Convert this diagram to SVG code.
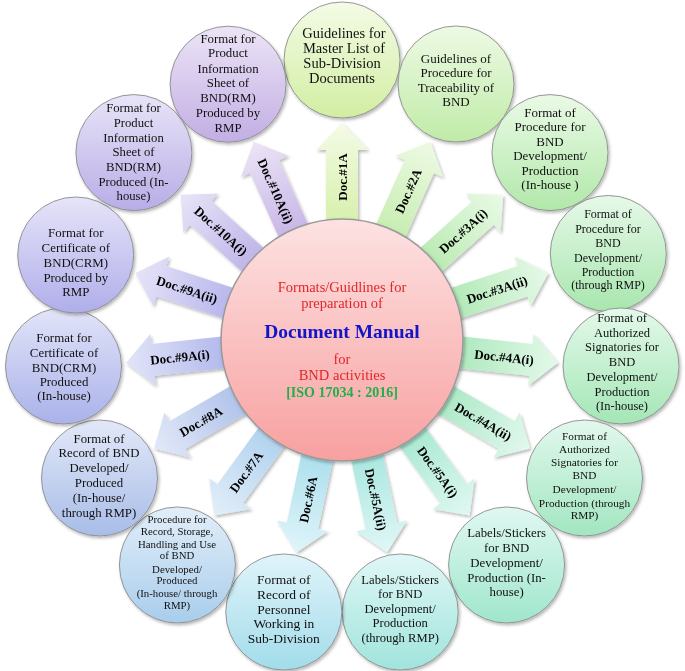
<svg xmlns="http://www.w3.org/2000/svg" width="685" height="671" viewBox="0 0 685 671">
<style>
.ct{font-family:"Liberation Serif","Times New Roman",serif;fill:#111;text-anchor:middle}
.al{font-family:"Liberation Serif","Times New Roman",serif;font-weight:bold;font-size:13px;fill:#000;text-anchor:middle}
.oc{stroke:#8c8c8c;stroke-width:0.9}
.mc{font-family:"Liberation Serif","Times New Roman",serif;text-anchor:middle}
</style>
<defs>
<filter id="sh" x="-10%" y="-10%" width="125%" height="125%"><feDropShadow dx="1.5" dy="2" stdDeviation="1.5" flood-color="#000" flood-opacity="0.28"/></filter>
<linearGradient id="c0" x1="0" y1="0" x2="0" y2="1"><stop offset="0" stop-color="#f4fbe6"/><stop offset="1" stop-color="#d2eea2"/></linearGradient>
<linearGradient id="c1" x1="0" y1="0" x2="0" y2="1"><stop offset="0" stop-color="#eefae4"/><stop offset="1" stop-color="#c0eba8"/></linearGradient>
<linearGradient id="c2" x1="0" y1="0" x2="0" y2="1"><stop offset="0" stop-color="#eafae6"/><stop offset="1" stop-color="#b2e8aa"/></linearGradient>
<linearGradient id="c3" x1="0" y1="0" x2="0" y2="1"><stop offset="0" stop-color="#e6f9e8"/><stop offset="1" stop-color="#a8e6ae"/></linearGradient>
<linearGradient id="c4" x1="0" y1="0" x2="0" y2="1"><stop offset="0" stop-color="#e4f9ea"/><stop offset="1" stop-color="#a4e6b6"/></linearGradient>
<linearGradient id="c5" x1="0" y1="0" x2="0" y2="1"><stop offset="0" stop-color="#e2f8ee"/><stop offset="1" stop-color="#a2e6c0"/></linearGradient>
<linearGradient id="c6" x1="0" y1="0" x2="0" y2="1"><stop offset="0" stop-color="#e0f8f2"/><stop offset="1" stop-color="#a0e6cc"/></linearGradient>
<linearGradient id="c7" x1="0" y1="0" x2="0" y2="1"><stop offset="0" stop-color="#e0f7f6"/><stop offset="1" stop-color="#a0e4dc"/></linearGradient>
<linearGradient id="c8" x1="0" y1="0" x2="0" y2="1"><stop offset="0" stop-color="#e0f4fa"/><stop offset="1" stop-color="#a2dcea"/></linearGradient>
<linearGradient id="c9" x1="0" y1="0" x2="0" y2="1"><stop offset="0" stop-color="#e2eef9"/><stop offset="1" stop-color="#a8cdec"/></linearGradient>
<linearGradient id="c10" x1="0" y1="0" x2="0" y2="1"><stop offset="0" stop-color="#e2e8f8"/><stop offset="1" stop-color="#a8bde8"/></linearGradient>
<linearGradient id="c11" x1="0" y1="0" x2="0" y2="1"><stop offset="0" stop-color="#e2e4f8"/><stop offset="1" stop-color="#aab2ea"/></linearGradient>
<linearGradient id="c12" x1="0" y1="0" x2="0" y2="1"><stop offset="0" stop-color="#e6e4f8"/><stop offset="1" stop-color="#b0aeea"/></linearGradient>
<linearGradient id="c13" x1="0" y1="0" x2="0" y2="1"><stop offset="0" stop-color="#e8e4f8"/><stop offset="1" stop-color="#b8ade6"/></linearGradient>
<linearGradient id="c14" x1="0" y1="0" x2="0" y2="1"><stop offset="0" stop-color="#ece4f6"/><stop offset="1" stop-color="#c2aee4"/></linearGradient>
<linearGradient id="a0" href="#c0" x1="1" y1="0" x2="0" y2="0"/>
<linearGradient id="a1" href="#c1" x1="1" y1="0" x2="0" y2="0"/>
<linearGradient id="a2" href="#c2" x1="1" y1="0" x2="0" y2="0"/>
<linearGradient id="a3" href="#c3" x1="1" y1="0" x2="0" y2="0"/>
<linearGradient id="a4" href="#c4" x1="1" y1="0" x2="0" y2="0"/>
<linearGradient id="a5" href="#c5" x1="1" y1="0" x2="0" y2="0"/>
<linearGradient id="a6" href="#c6" x1="1" y1="0" x2="0" y2="0"/>
<linearGradient id="a7" href="#c7" x1="1" y1="0" x2="0" y2="0"/>
<linearGradient id="a8" href="#c8" x1="1" y1="0" x2="0" y2="0"/>
<linearGradient id="a9" href="#c9" x1="1" y1="0" x2="0" y2="0"/>
<linearGradient id="a10" href="#c10" x1="1" y1="0" x2="0" y2="0"/>
<linearGradient id="a11" href="#c11" x1="1" y1="0" x2="0" y2="0"/>
<linearGradient id="a12" href="#c12" x1="1" y1="0" x2="0" y2="0"/>
<linearGradient id="a13" href="#c13" x1="1" y1="0" x2="0" y2="0"/>
<linearGradient id="a14" href="#c14" x1="1" y1="0" x2="0" y2="0"/>
<linearGradient id="pk" x1="0" y1="0" x2="0" y2="1"><stop offset="0" stop-color="#fde2e2"/><stop offset="1" stop-color="#f8a0a0"/></linearGradient>
<polygon id="arr" points="100,-16 190,-16 190,-26 217,0 190,26 190,16 100,16"/>
</defs>
<rect width="685" height="671" fill="#fff"/>

<g id="connectors">
<g filter="url(#sh)">
<use href="#arr" fill="url(#a0)" transform="translate(342 340) rotate(-90)"/>
<use href="#arr" fill="url(#a1)" transform="translate(342 340) rotate(-66)"/>
<use href="#arr" fill="url(#a2)" transform="translate(342 340) rotate(-42)"/>
<use href="#arr" fill="url(#a3)" transform="translate(342 340) rotate(-18)"/>
<use href="#arr" fill="url(#a4)" transform="translate(342 340) rotate(6)"/>
<use href="#arr" fill="url(#a5)" transform="translate(342 340) rotate(30)"/>
<use href="#arr" fill="url(#a6)" transform="translate(342 340) rotate(54)"/>
<use href="#arr" fill="url(#a7)" transform="translate(342 340) rotate(78)"/>
<use href="#arr" fill="url(#a8)" transform="translate(342 340) rotate(102)"/>
<use href="#arr" fill="url(#a9)" transform="translate(342 340) rotate(126)"/>
<use href="#arr" fill="url(#a10)" transform="translate(342 340) rotate(150)"/>
<use href="#arr" fill="url(#a11)" transform="translate(342 340) rotate(174)"/>
<use href="#arr" fill="url(#a12)" transform="translate(342 340) rotate(198)"/>
<use href="#arr" fill="url(#a13)" transform="translate(342 340) rotate(222)"/>
<use href="#arr" fill="url(#a14)" transform="translate(342 340) rotate(246)"/>
</g>
<g id="arrow-labels">
<text class="al" transform="translate(342 340) rotate(-90)" x="163" y="0" dy="0.35em">Doc.#1A</text>
<text class="al" transform="translate(342 340) rotate(-66)" x="163" y="0" dy="0.35em">Doc.#2A</text>
<text class="al" transform="translate(342 340) rotate(-42)" x="163" y="0" dy="0.35em">Doc.#3A(i)</text>
<text class="al" transform="translate(342 340) rotate(-18)" x="163" y="0" dy="0.35em">Doc.#3A(ii)</text>
<text class="al" transform="translate(342 340) rotate(6)" x="163" y="0" dy="0.35em">Doc.#4A(i)</text>
<text class="al" transform="translate(342 340) rotate(30)" x="163" y="0" dy="0.35em">Doc.#4A(ii)</text>
<text class="al" transform="translate(342 340) rotate(54)" x="163" y="0" dy="0.35em">Doc.#5A(i)</text>
<text class="al" transform="translate(342 340) rotate(78)" x="163" y="0" dy="0.35em">Doc.#5A(ii)</text>
<text class="al" transform="translate(342 340) rotate(102) rotate(180 163 0)" x="163" y="0" dy="0.35em">Doc.#6A</text>
<text class="al" transform="translate(342 340) rotate(126) rotate(180 163 0)" x="163" y="0" dy="0.35em">Doc.#7A</text>
<text class="al" transform="translate(342 340) rotate(150) rotate(180 163 0)" x="163" y="0" dy="0.35em">Doc.#8A</text>
<text class="al" transform="translate(342 340) rotate(174) rotate(180 163 0)" x="163" y="0" dy="0.35em">Doc.#9A(i)</text>
<text class="al" transform="translate(342 340) rotate(198) rotate(180 163 0)" x="163" y="0" dy="0.35em">Doc.#9A(ii)</text>
<text class="al" transform="translate(342 340) rotate(222) rotate(180 163 0)" x="163" y="0" dy="0.35em">Doc.#10A(i)</text>
<text class="al" transform="translate(342 340) rotate(246) rotate(180 163 0)" x="163" y="0" dy="0.35em">Doc.#10A(ii)</text>
</g>
</g>

<g id="center">
<circle cx="342" cy="340" r="121" fill="url(#pk)" stroke="#9a9a9a" stroke-width="1.5" filter="url(#sh)"/>
<text class="mc" font-size="14.5" fill="#e0262a"><tspan x="342" y="292">Formats/Guidlines  for</tspan><tspan x="342" y="308">preparation of</tspan></text>
<text class="mc" font-size="19.5" font-weight="bold" fill="#1414c8" x="342" y="338">Document Manual</text>
<text class="mc" font-size="14.5" fill="#e0262a"><tspan x="342" y="364">for</tspan><tspan x="342" y="380">BND activities</tspan></text>
<text class="mc" font-size="14" font-weight="bold" fill="#1fb04c" x="342" y="397">[ISO 17034 : 2016]</text>
</g>

<g id="node-1A">
<circle class="oc" cx="342" cy="60" r="58" fill="url(#c0)" filter="url(#sh)"/>
<text class="ct" font-size="14.5"><tspan x="344" y="38">Guidelines for</tspan><tspan x="344" y="53">Master List of</tspan><tspan x="342" y="68">Sub-Division</tspan><tspan x="342" y="83">Documents</tspan></text>
</g>
<g id="node-2A">
<circle class="oc" cx="456" cy="84" r="58" fill="url(#c1)" filter="url(#sh)"/>
<text class="ct" font-size="13"><tspan x="456" y="62.7">Guidelines of</tspan><tspan x="456" y="77.3">Procedure for</tspan><tspan x="456" y="91.7">Traceability of</tspan><tspan x="456" y="106">BND</tspan></text>
</g>
<g id="node-3Ai">
<circle class="oc" cx="550" cy="152.6" r="58" fill="url(#c2)" filter="url(#sh)"/>
<text class="ct" font-size="13"><tspan x="550" y="116.7">Format of</tspan><tspan x="550" y="131">Procedure for</tspan><tspan x="550" y="145.7">BND</tspan><tspan x="550" y="160">Development/</tspan><tspan x="550" y="175">Production</tspan><tspan x="550" y="189.3">(In-house )</tspan></text>
</g>
<g id="node-3Aii">
<circle class="oc" cx="608.3" cy="253.5" r="58" fill="url(#c3)" filter="url(#sh)"/>
<text class="ct" font-size="12"><tspan x="608" y="218.3">Format of</tspan><tspan x="608" y="233.3">Procedure for</tspan><tspan x="608" y="247.3">BND</tspan><tspan x="608" y="261.7">Development/</tspan><tspan x="608" y="276">Production</tspan><tspan x="608" y="289.3">(through RMP)</tspan></text>
</g>
<g id="node-4Ai">
<circle class="oc" cx="621" cy="366" r="58" fill="url(#c4)" filter="url(#sh)"/>
<text class="ct" font-size="12.5"><tspan x="622" y="322">Format of</tspan><tspan x="622" y="336.7">Authorized</tspan><tspan x="622" y="351.4">Signatories for</tspan><tspan x="622" y="366.1">BND</tspan><tspan x="622" y="380.8">Development/</tspan><tspan x="622" y="395.5">Production</tspan><tspan x="622" y="410.2">(In-house)</tspan></text>
</g>
<g id="node-4Aii">
<circle class="oc" cx="584.5" cy="478" r="58" fill="url(#c5)" filter="url(#sh)"/>
<text class="ct" font-size="11.3"><tspan x="584.5" y="440">Format of</tspan><tspan x="584.5" y="452.7">Authorized</tspan><tspan x="584.5" y="466">Signatories for</tspan><tspan x="584.5" y="479.3">BND</tspan><tspan x="584.5" y="492.7">Development/</tspan><tspan x="584.5" y="507.3">Production (through</tspan><tspan x="584.5" y="519.3">RMP)</tspan></text>
</g>
<g id="node-5Ai">
<circle class="oc" cx="506.6" cy="565" r="58" fill="url(#c6)" filter="url(#sh)"/>
<text class="ct" font-size="12.8"><tspan x="506.6" y="536.7">Labels/Stickers</tspan><tspan x="506.6" y="551.7">for BND</tspan><tspan x="506.6" y="566.7">Development/</tspan><tspan x="506.6" y="581.7">Production (In-</tspan><tspan x="506.6" y="596">house)</tspan></text>
</g>
<g id="node-5Aii">
<circle class="oc" cx="400.2" cy="612" r="58" fill="url(#c7)" filter="url(#sh)"/>
<text class="ct" font-size="12.6"><tspan x="400.2" y="584">Labels/Stickers</tspan><tspan x="400.2" y="598.3">for BND</tspan><tspan x="400.2" y="612.7">Development/</tspan><tspan x="400.2" y="627.3">Production</tspan><tspan x="400.2" y="642.3">(through RMP)</tspan></text>
</g>
<g id="node-6A">
<circle class="oc" cx="283.8" cy="612" r="58" fill="url(#c8)" filter="url(#sh)"/>
<text class="ct" font-size="13.5"><tspan x="283.8" y="584">Format of</tspan><tspan x="283.8" y="599">Record of</tspan><tspan x="283.8" y="613.5">Personnel</tspan><tspan x="283.8" y="628">Working in</tspan><tspan x="283.8" y="643">Sub-Division</tspan></text>
</g>
<g id="node-7A">
<circle class="oc" cx="177.4" cy="565" r="58" fill="url(#c9)" filter="url(#sh)"/>
<text class="ct" font-size="10.8"><tspan x="177" y="522.7">Procedure for</tspan><tspan x="177" y="535">Record, Storage,</tspan><tspan x="177" y="547.7">Handling and Use</tspan><tspan x="177" y="559.3">of BND</tspan><tspan x="177" y="572.7">Developed/</tspan><tspan x="177" y="584">Produced</tspan><tspan x="177" y="596.7">(In-house/ through</tspan><tspan x="177" y="609.3">RMP)</tspan></text>
</g>
<g id="node-8A">
<circle class="oc" cx="99.5" cy="478" r="58" fill="url(#c10)" filter="url(#sh)"/>
<text class="ct" font-size="12.8"><tspan x="99" y="443.3">Format of</tspan><tspan x="99" y="457.3">Record of BND</tspan><tspan x="99" y="472.3">Developed/</tspan><tspan x="99" y="487.3">Produced</tspan><tspan x="99" y="502.3">(In-house/</tspan><tspan x="99" y="516.7">through RMP)</tspan></text>
</g>
<g id="node-9Ai">
<circle class="oc" cx="63.5" cy="366" r="58" fill="url(#c11)" filter="url(#sh)"/>
<text class="ct" font-size="12.9"><tspan x="64" y="341.7">Format for</tspan><tspan x="64" y="356.7">Certificate of</tspan><tspan x="64" y="371.7">BND(CRM)</tspan><tspan x="64" y="385.5">Produced</tspan><tspan x="64" y="400">(In-house)</tspan></text>
</g>
<g id="node-9Aii">
<circle class="oc" cx="75.7" cy="255" r="58" fill="url(#c12)" filter="url(#sh)"/>
<text class="ct" font-size="12.9"><tspan x="75.8" y="236.7">Format for</tspan><tspan x="75.8" y="251.7">Certificate of</tspan><tspan x="75.8" y="266.7">BND(CRM)</tspan><tspan x="75.8" y="281.7">Produced by</tspan><tspan x="75.8" y="296">RMP</tspan></text>
</g>
<g id="node-10Ai">
<circle class="oc" cx="133.9" cy="152.6" r="58" fill="url(#c13)" filter="url(#sh)"/>
<text class="ct" font-size="12.7"><tspan x="133.5" y="111.7">Format for</tspan><tspan x="133.5" y="126.7">Product</tspan><tspan x="133.5" y="141.7">Information</tspan><tspan x="133.5" y="156">Sheet of</tspan><tspan x="133.5" y="170.7">BND(RM)</tspan><tspan x="133.5" y="186">Produced (In-</tspan><tspan x="133.5" y="200">house)</tspan></text>
</g>
<g id="node-10Aii">
<circle class="oc" cx="228.1" cy="84.2" r="58" fill="url(#c14)" filter="url(#sh)"/>
<text class="ct" font-size="12.8"><tspan x="228" y="43.3">Format for</tspan><tspan x="228" y="57.3">Product</tspan><tspan x="228" y="72.7">Information</tspan><tspan x="228" y="87.3">Sheet of</tspan><tspan x="228" y="101.7">BND(RM)</tspan><tspan x="228" y="116.7">Produced by</tspan><tspan x="228" y="131.7">RMP</tspan></text>
</g>
</svg>
